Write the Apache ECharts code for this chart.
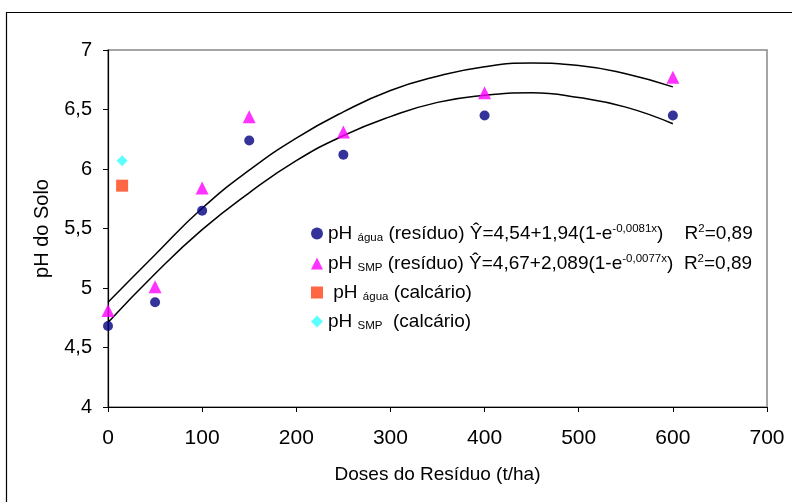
<!DOCTYPE html>
<html><head><meta charset="utf-8">
<script src="https://cdn.jsdelivr.net/npm/echarts@6/dist/echarts.min.js"></script>
<style>html,body{margin:0;padding:0;background:#fff}#c{width:792px;height:502px}</style>
</head><body><div id="c"></div>
<script>
const doses = [0, 50, 100, 150, 250, 400, 600];
const phAguaResiduo = [4.68, 4.88, 5.65, 6.24, 6.12, 6.45, 6.45];
const phSmpResiduo = [4.81, 5.01, 5.84, 6.44, 6.31, 6.64, 6.77];
const phAguaCalcario = [[15, 5.86]];
const phSmpCalcario = [[15, 6.07]];
const curveX = [0, 50, 100, 150, 200, 250, 300, 350, 400, 450, 500, 550, 600];
const curveSmp = [4.88, 5.28, 5.67, 5.99, 6.26, 6.48, 6.66, 6.78, 6.86, 6.89, 6.87, 6.80, 6.69];
const curveAgua = [4.71, 5.12, 5.49, 5.80, 6.07, 6.28, 6.44, 6.56, 6.62, 6.64, 6.60, 6.52, 6.38];
const xTicks = [0, 100, 200, 300, 400, 500, 600, 700];
const yTicks = [4, 4.5, 5, 5.5, 6, 6.5, 7];

const labels = {
  aguaRes: '{a|pH }{sub|água}{a| (resíduo) Ŷ=4,54+1,94(1-e}{sup|-0,0081x}{a|)    R}{sup|2}{a|=0,89}',
  smpRes: '{a|pH }{sub|SMP}{a| (resíduo) Ŷ=4,67+2,089(1-e}{sup|-0,0077x}{a|)  R}{sup|2}{a|=0,89}',
  aguaCal: '{a| pH }{sub|água}{a| (calcário)}',
  smpCal: '{a|pH }{sub|SMP}{a|  (calcário)}'
};
const zip = (xs, ys) => xs.map((x, i) => [x, ys[i]]);
const F = 'Liberation Sans, Arial, sans-serif';
const chart = echarts.init(document.getElementById('c'));
chart.setOption({
  animation: false,
  backgroundColor: '#fff',
  grid: { left: 108, top: 50, width: 659, height: 357, show: true, borderColor: '#888', borderWidth: 1.5 },
  xAxis: {
    type: 'value', min: xTicks[0], max: xTicks[xTicks.length - 1], interval: 100,
    axisLine: { show: true, lineStyle: { color: '#000', width: 1.2 } },
    axisTick: { show: true, inside: false, length: 5, lineStyle: { color: '#000' } },
    splitLine: { show: false },
    axisLabel: { color: '#000', fontSize: 21, fontFamily: F, margin: 21 },
    name: 'Doses do Resíduo (t/ha)', nameLocation: 'middle', nameGap: 58,
    nameTextStyle: { color: '#000', fontSize: 19, fontFamily: F }
  },
  yAxis: {
    type: 'value', min: yTicks[0], max: yTicks[yTicks.length - 1], interval: 0.5,
    axisLine: { show: true, lineStyle: { color: '#000', width: 1.2 } },
    axisTick: { show: true, inside: false, length: 5, lineStyle: { color: '#000' } },
    splitLine: { show: false },
    axisLabel: { color: '#000', fontSize: 20, fontFamily: F, margin: 16,
      formatter: v => String(v).replace('.', ',') },
    name: 'pH do Solo', nameLocation: 'middle', nameGap: 56, nameRotate: 90,
    nameTextStyle: { color: '#000', fontSize: 20, fontFamily: F }
  },
  legend: {
    orient: 'vertical', left: 306, top: 218, itemGap: 9, itemWidth: 12, itemHeight: 12,
    data: [
      { name: 'aguaRes', icon: 'circle' },
      { name: 'smpRes', icon: 'triangle' },
      { name: 'aguaCal', icon: 'rect' },
      { name: 'smpCal', icon: 'diamond' }
    ],
    formatter: n => labels[n],
    textStyle: {
      color: '#000', fontFamily: F,
      rich: {
        a: { fontSize: 19, fontFamily: F, color: '#000', height: 20 },
        sub: { fontSize: 11.5, fontFamily: F, color: '#000', verticalAlign: 'bottom', padding: [9, 0, 0, 0] },
        sup: { fontSize: 11.5, fontFamily: F, color: '#000', verticalAlign: 'top', padding: [0, 0, 9, 0] }
      }
    }
  },
  graphic: [
    { type: 'rect', silent: true, shape: { x: 6.5, y: 12.5, width: 900, height: 600 },
      style: { fill: 'none', stroke: '#000', lineWidth: 1.2 } }
  ],
  series: [
    { type: 'line', data: zip(curveX, curveSmp), smooth: true, showSymbol: false, symbol: 'none',
      lineStyle: { color: '#000', width: 1.5 }, z: 1 },
    { type: 'line', data: zip(curveX, curveAgua), smooth: true, showSymbol: false, symbol: 'none',
      lineStyle: { color: '#000', width: 1.5 }, z: 1 },
    { name: 'aguaRes', type: 'scatter', data: zip(doses, phAguaResiduo), symbol: 'circle', symbolSize: 10,
      itemStyle: { color: '#000080' }, z: 3 },
    { name: 'smpRes', type: 'scatter', data: zip(doses, phSmpResiduo), symbol: 'triangle', symbolSize: 13,
      itemStyle: { color: '#FF00FF' }, z: 3 },
    { name: 'aguaCal', type: 'scatter', data: phAguaCalcario, symbol: 'rect', symbolSize: 12,
      itemStyle: { color: '#FF4015' }, z: 3 },
    { name: 'smpCal', type: 'scatter', data: phSmpCalcario, symbol: 'diamond', symbolSize: 11,
      itemStyle: { color: '#33FFFF' }, z: 3 }
  ]
});
</script></body></html>
